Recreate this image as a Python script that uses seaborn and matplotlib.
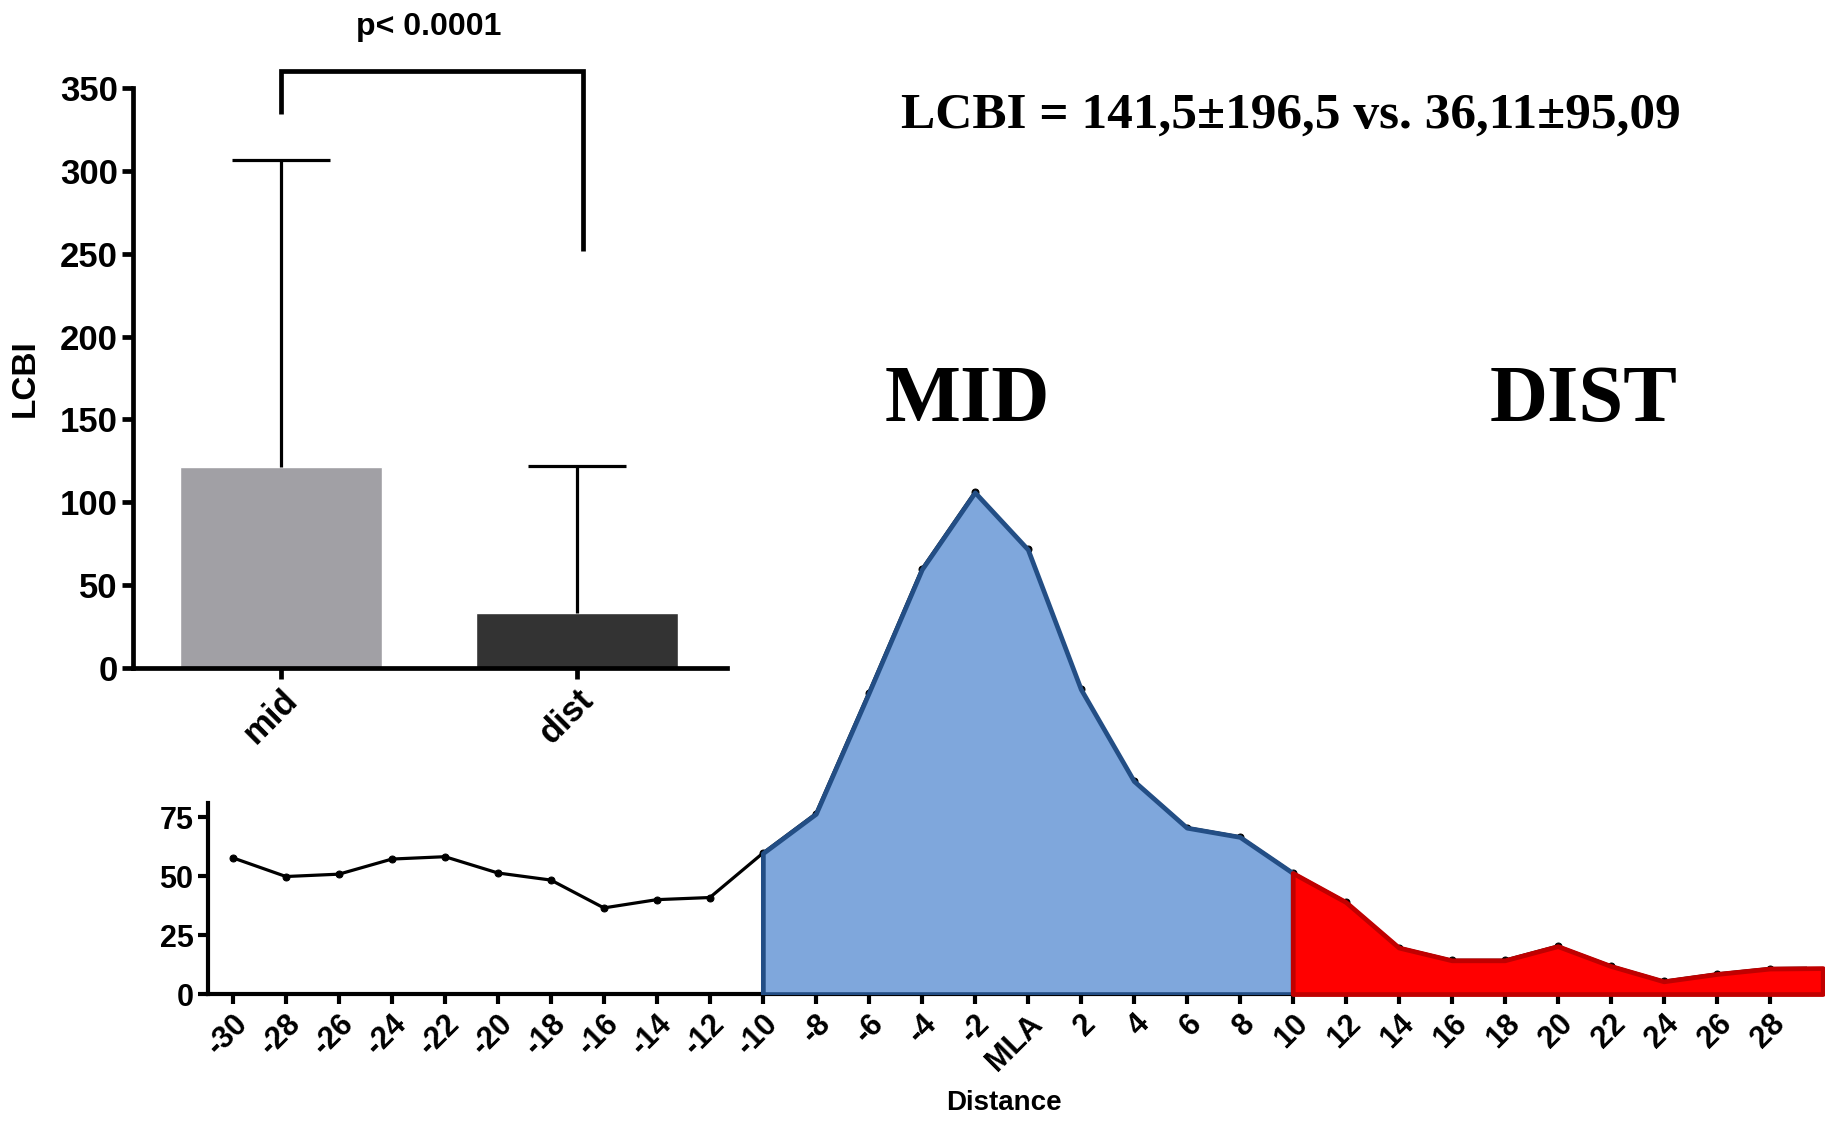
import numpy as np
import matplotlib
matplotlib.use("Agg")
import matplotlib.pyplot as plt
import seaborn as sns
from matplotlib import font_manager

# ---------------- data ----------------
bar_categories = ["mid", "dist"]
bar_means = [121.5, 33.0]
bar_sd = [185.0, 89.0]
bar_colors = ["#A1A0A5", "#333333"]

p_text = "p< 0.0001"
bracket_left_bottom = 334
bracket_top = 360
bracket_right_bottom = 251.5

distance = [-30, -28, -26, -24, -22, -20, -18, -16, -14, -12, -10,
            -8, -6, -4, -2, 0, 2, 4, 6, 8, 10,
            12, 14, 16, 18, 20, 22, 24, 26, 28, 30]
lcbi_profile = [57.7, 49.8, 50.8, 57.2, 58.2, 51.3, 48.3, 36.5, 40.0, 40.9, 59.7,
                76.4, 127.7, 180.0, 212.6, 188.4, 129.2, 90.3, 70.5, 66.6, 51.3,
                39.0, 19.7, 14.3, 14.3, 20.3, 11.9, 5.4, 8.5, 10.8, 11.0]
x_tick_values = list(range(-30, 30, 2))
x_tick_labels = ["MLA" if v == 0 else str(v) for v in x_tick_values]
mid_range = (-10, 10)
dist_range = (10, 30)

headline = "LCBI = 141,5±196,5 vs. 36,11±95,09"

# ---------------- style ----------------
sns.set_style("white")
plt.rcParams["font.family"] = ["Liberation Sans", "DejaVu Sans"]
plt.rcParams["font.weight"] = "bold"
plt.rcParams["text.color"] = "black"
plt.rcParams["axes.labelcolor"] = "black"
plt.rcParams["xtick.color"] = "black"
plt.rcParams["ytick.color"] = "black"

installed = {f.name for f in font_manager.fontManager.ttflist}
narrow = "Liberation Sans Narrow" if "Liberation Sans Narrow" in installed else "Liberation Sans"

fig = plt.figure(figsize=(18.25, 11.25), dpi=100)
fig.patch.set_facecolor("white")

# ---------------- bar chart ----------------
ax1 = fig.add_axes([0.0729, 0.4062, 0.3255, 0.5156])
ax1.patch.set_alpha(0)
sns.barplot(x=bar_categories, y=bar_means, hue=bar_categories, palette=bar_colors,
            width=0.68, saturation=1, errorbar=None, legend=False, ax=ax1, zorder=2)
eb = ax1.errorbar(np.arange(len(bar_means)), bar_means,
                  yerr=[np.zeros(len(bar_sd)), bar_sd], fmt="none",
                  ecolor="black", elinewidth=2.3, capsize=35, capthick=2.3, zorder=3)
eb[1][0].set_visible(False)

ax1.set_xlim(-0.5, 1.507)
ax1.set_ylim(0, 350)
ax1.set_yticks(range(0, 351, 50))
for s in ["top", "right"]:
    ax1.spines[s].set_visible(False)
for s in ["left", "bottom"]:
    ax1.spines[s].set_linewidth(3.4)
    ax1.spines[s].set_color("black")
ax1.tick_params(axis="both", direction="out", width=3.4, length=8,
                colors="black", left=True, bottom=True, pad=3)
ax1.tick_params(axis="y", labelsize=25)
ax1.tick_params(axis="x", labelsize=25)
plt.setp(ax1.get_xticklabels(), rotation=45, ha="right", rotation_mode="anchor",
         fontweight="bold")
plt.setp(ax1.get_yticklabels(), fontweight="bold")
ax1.set_xlabel("")
ax1.set_ylabel("LCBI", fontsize=24, fontweight="bold", va="center")
ax1.yaxis.set_label_coords(-0.182, 0.5)

ax1.plot([0, 0, 1.02, 1.02],
         [bracket_left_bottom, bracket_top, bracket_top, bracket_right_bottom],
         color="black", lw=3.4, clip_on=False, solid_joinstyle="miter",
         solid_capstyle="butt")
ax1.text(0.5, 387, p_text, ha="center", va="center", fontsize=23,
         fontweight="bold", clip_on=False)

# ---------------- profile chart ----------------
ax2 = fig.add_axes([0.114, 0.1164, 0.876, 0.472])
ax2.patch.set_alpha(0)
dist_arr = np.array(distance)
val_arr = np.array(lcbi_profile)

sns.lineplot(x=distance, y=lcbi_profile, color="black", lw=2.3, marker="o",
             markersize=5, markeredgecolor="black", ax=ax2, zorder=2)

m = (dist_arr >= mid_range[0]) & (dist_arr <= mid_range[1])
ax2.fill_between(dist_arr[m], 0, val_arr[m], facecolor="#7FA7DC",
                 edgecolor="#234E85", linewidth=3.4, zorder=3)
d = (dist_arr >= dist_range[0]) & (dist_arr <= dist_range[1])
ax2.fill_between(dist_arr[d], 0, val_arr[d], facecolor="#FF0000",
                 edgecolor="#C00000", linewidth=3.4, zorder=3, clip_on=False)

ax2.set_xlim(-30.94, 29.4)
ax2.set_ylim(0, 225)
ax2.set_yticks([0, 25, 50, 75])
ax2.set_xticks(x_tick_values)
ax2.set_xticklabels(x_tick_labels)
for s in ["top", "right"]:
    ax2.spines[s].set_visible(False)
for s in ["left", "bottom"]:
    ax2.spines[s].set_linewidth(3.0)
    ax2.spines[s].set_color("black")
ax2.spines["left"].set_bounds(0, 81)
ax2.tick_params(axis="both", direction="out", width=3.0, length=7.5,
                colors="black", left=True, bottom=True, pad=3)
ax2.tick_params(axis="y", labelsize=22)
ax2.tick_params(axis="x", labelsize=22)
plt.setp(ax2.get_xticklabels(), rotation=45, ha="right", rotation_mode="anchor",
         fontweight="bold")
plt.setp(ax2.get_yticklabels(), fontweight="bold", family=[narrow, "DejaVu Sans"])
ax2.set_xlabel("Distance", fontsize=20, fontweight="bold", va="center")
ax2.xaxis.set_label_coords(0.498, -0.205)
ax2.set_ylabel("")

# ---------------- annotations ----------------
serif = ["Liberation Serif", "DejaVu Serif"]
fig.text(1291 / 1825, 1 - 116 / 1125, headline, family=serif, fontweight="bold",
         fontsize=37, ha="center", va="center", color="black")
fig.text(967 / 1825, 1 - 402 / 1125, "MID", family=serif, fontweight="bold",
         fontsize=58, ha="center", va="center", color="black")
fig.text(1584 / 1825, 1 - 402 / 1125, "DIST", family=serif, fontweight="bold",
         fontsize=58, ha="center", va="center", color="black")

fig.savefig("out.png", dpi=100, facecolor="white")
